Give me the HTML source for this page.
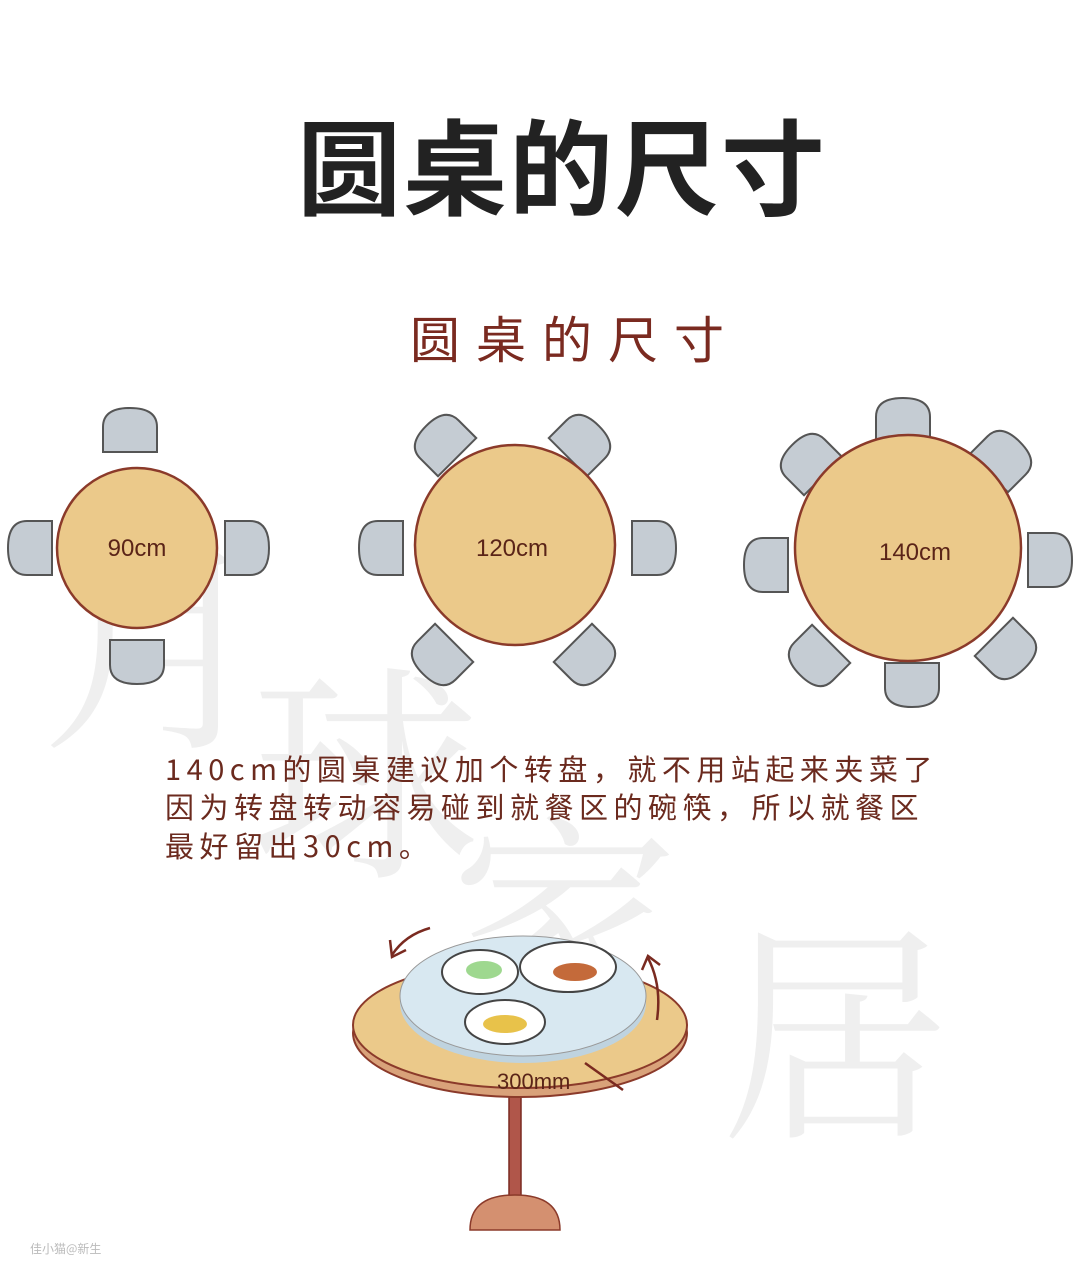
<!DOCTYPE html>
<html><head><meta charset="utf-8"><style>
html,body{margin:0;padding:0;background:#fff}
svg{display:block}
</style></head><body>
<svg width="1080" height="1286" viewBox="0 0 1080 1286" xmlns="http://www.w3.org/2000/svg" font-family="'Liberation Sans','Noto Sans CJK SC',sans-serif">
<rect width="1080" height="1286" fill="#fff"/>
<g fill="#efefef" font-size="230" font-family="'Noto Serif CJK SC','Noto Sans CJK SC',serif">
<text x="40" y="730">月</text>
<text x="250" y="860">球</text>
<text x="450" y="1010">家</text>
<text x="720" y="1120">居</text>
</g>
<text x="562" y="207" text-anchor="middle" font-size="104" font-weight="bold" fill="#222" font-family="'Noto Sans CJK SC',sans-serif" letter-spacing="2">圆桌的尺寸</text>
<text x="575" y="358" text-anchor="middle" font-size="50" fill="#7a2a20" font-family="'Noto Sans CJK SC',sans-serif" letter-spacing="16">圆桌的尺寸</text>
<defs>
<path id="ch" d="M-27,20 L-27,-5 Q-27,-24 0,-24 Q27,-24 27,-5 L27,20 Z" fill="#c5ccd3" stroke="#555" stroke-width="2"/>
</defs>
<g>
<use href="#ch" transform="translate(130,432)"/>
<use href="#ch" transform="translate(32,548) rotate(-90)"/>
<use href="#ch" transform="translate(245,548) rotate(90)"/>
<use href="#ch" transform="translate(137,660) rotate(180)"/>
<circle cx="137" cy="548" r="80" fill="#ebc98a" stroke="#8b3a2a" stroke-width="2.5"/>
<text x="137" y="556" text-anchor="middle" font-size="24" fill="#5a2418">90cm</text>
</g>
<g>
<use href="#ch" transform="translate(443,443) rotate(-45)"/>
<use href="#ch" transform="translate(582,443) rotate(45)"/>
<use href="#ch" transform="translate(383,548) rotate(-90)"/>
<use href="#ch" transform="translate(652,548) rotate(90)"/>
<use href="#ch" transform="translate(440,657) rotate(-135)"/>
<use href="#ch" transform="translate(587,657) rotate(135)"/>
<circle cx="515" cy="545" r="100" fill="#ebc98a" stroke="#8b3a2a" stroke-width="2.5"/>
<text x="512" y="556" text-anchor="middle" font-size="24" fill="#5a2418">120cm</text>
</g>
<g>
<use href="#ch" transform="translate(903,422)"/>
<use href="#ch" transform="translate(1003,459) rotate(45)"/>
<use href="#ch" transform="translate(809,462) rotate(-45)"/>
<use href="#ch" transform="translate(768,565) rotate(-90)"/>
<use href="#ch" transform="translate(1048,560) rotate(90)"/>
<use href="#ch" transform="translate(817,658) rotate(-135)"/>
<use href="#ch" transform="translate(1008,651) rotate(135)"/>
<use href="#ch" transform="translate(912,683) rotate(180)"/>
<circle cx="908" cy="548" r="113" fill="#ebc98a" stroke="#8b3a2a" stroke-width="2.5"/>
<text x="915" y="560" text-anchor="middle" font-size="24" fill="#5a2418">140cm</text>
</g>
<g font-size="29" fill="#6b2a1e" font-family="'Noto Sans CJK SC',sans-serif" letter-spacing="5.5">
<text x="165" y="780">140cm的圆桌建议加个转盘，就不用站起来夹菜了</text>
<text x="165" y="818">因为转盘转动容易碰到就餐区的碗筷，所以就餐区</text>
<text x="165" y="857">最好留出30cm。</text>
</g>
<rect x="509" y="1090" width="12" height="125" fill="#b0564a" stroke="#7a2a20" stroke-width="1.5"/>
<path d="M470,1230 Q470,1195 515,1195 Q560,1195 560,1230 Z" fill="#d49070" stroke="#8b3a2a" stroke-width="1.5"/>
<ellipse cx="520" cy="1033" rx="167" ry="64" fill="#d9a27a" stroke="#8b3a2a" stroke-width="2"/>
<ellipse cx="520" cy="1025" rx="167" ry="63" fill="#ebc98a" stroke="#8b3a2a" stroke-width="2"/>
<ellipse cx="523" cy="1003" rx="123" ry="60" fill="#bfd3df"/>
<ellipse cx="523" cy="996" rx="123" ry="60" fill="#d8e8f1" stroke="#999" stroke-width="1"/>
<ellipse cx="480" cy="972" rx="38" ry="22" fill="#fff" stroke="#444" stroke-width="2"/>
<ellipse cx="484" cy="970" rx="18" ry="9" fill="#9ed88f"/>
<ellipse cx="568" cy="967" rx="48" ry="25" fill="#fff" stroke="#444" stroke-width="2"/>
<ellipse cx="575" cy="972" rx="22" ry="9" fill="#c46a3a"/>
<ellipse cx="505" cy="1022" rx="40" ry="22" fill="#fff" stroke="#444" stroke-width="2"/>
<ellipse cx="505" cy="1024" rx="22" ry="9" fill="#e8c24a"/>
<path d="M430,928 Q405,935 392,955" fill="none" stroke="#7a2a20" stroke-width="2.5"/>
<path d="M390,940 L392,957 L406,950" fill="none" stroke="#7a2a20" stroke-width="2.5"/>
<path d="M657,1020 Q662,985 648,958" fill="none" stroke="#7a2a20" stroke-width="2.5"/>
<path d="M642,970 L648,956 L660,965" fill="none" stroke="#7a2a20" stroke-width="2.5"/>
<line x1="585" y1="1063" x2="623" y2="1090" stroke="#7a2a20" stroke-width="2.5"/>
<text x="497" y="1089" font-size="22" fill="#5a2418">300mm</text>
<text x="30" y="1253" font-size="12" fill="#bbb" font-family="'Noto Sans CJK SC',sans-serif">佳小猫@新生</text>
</svg>
</body></html>
